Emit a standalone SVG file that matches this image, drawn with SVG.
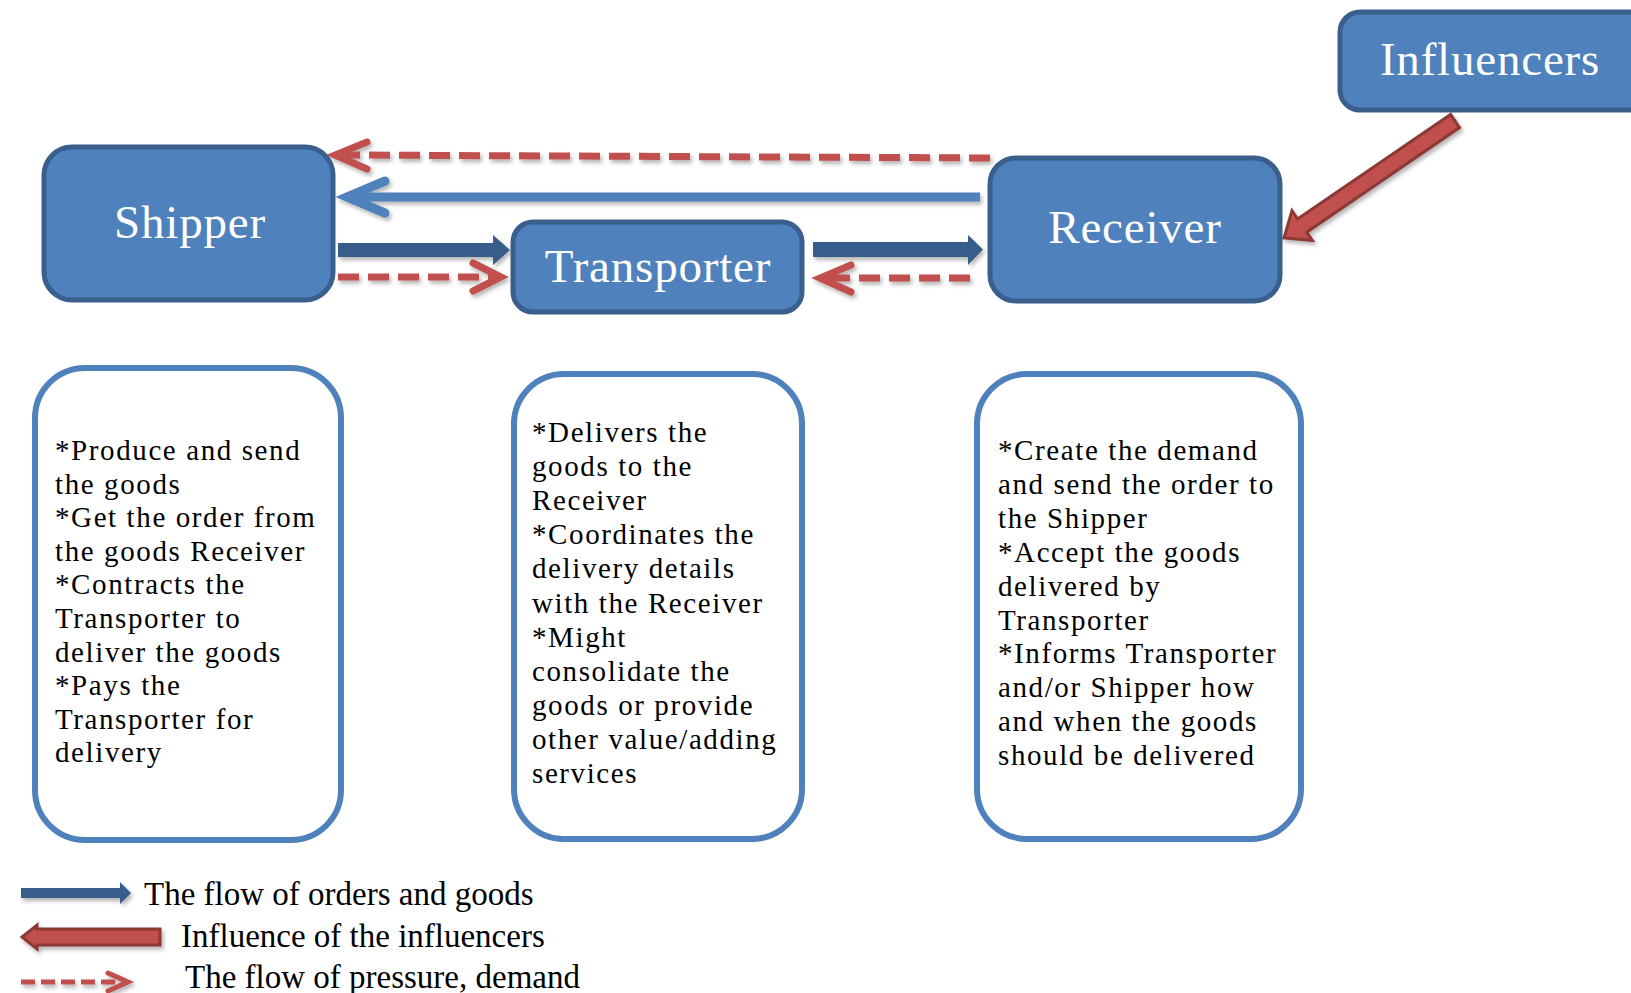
<svg xmlns="http://www.w3.org/2000/svg" width="1631" height="993" viewBox="0 0 1631 993">
<defs>
<filter id="sh" filterUnits="userSpaceOnUse" x="0" y="0" width="1631" height="993">
<feDropShadow dx="2" dy="3" stdDeviation="2" flood-color="#000" flood-opacity="0.3"/>
</filter>
</defs>
<style>
.hbox{fill:#4F81BD;stroke:#3A5F8D;stroke-width:5}
.htxt{font-family:"Liberation Serif","Times New Roman",serif;font-size:47px;fill:#fff;text-anchor:middle;letter-spacing:0.8px}
.dbox{fill:#fff;stroke:#4F81BD;stroke-width:6}
.dtxt{font-family:"Liberation Serif","Times New Roman",serif;font-size:29px;fill:#000;letter-spacing:1.6px}
.ltxt{font-family:"Liberation Serif","Times New Roman",serif;font-size:33px;fill:#000}
.rdash{fill:none;stroke:#C0504D;stroke-width:7;stroke-dasharray:21 9}
.rchev{fill:none;stroke:#C0504D;stroke-width:7;stroke-linecap:round;stroke-linejoin:miter}
.bline{fill:none;stroke:#4F81BD;stroke-width:9}
.bchev{fill:none;stroke:#4F81BD;stroke-width:9;stroke-linecap:round;stroke-linejoin:miter}
.dblk{fill:#385D8A}
.rblk{fill:#C0504D;stroke:#8C3836;stroke-width:3;stroke-linejoin:miter}
</style>

<g id="connectors" filter="url(#sh)">
<path class="rdash" d="M990,158 L345,155"/>
<polyline class="rchev" points="367,142 335,155 367,169"/>
<path class="bline" d="M980,197 L350,197"/>
<polyline class="bchev" points="385,181 347,197 385,213"/>
<polygon class="dblk" points="338,243 493,243 493,235 510,250 493,265 493,257 338,257"/>
<polygon class="dblk" points="813,242 968,242 968,235 983,249.5 968,265 968,257 813,257"/>
<path class="rdash" d="M338,277 L498,277"/>
<polyline class="rchev" points="473,263 501,277 473,291"/>
<path class="rdash" d="M970,278 L824,278"/>
<polyline class="rchev" points="851,265 820,278 851,292"/>
<polygon class="rblk" points="1450.5,114.4 1297.6,219 1292,210.7 1284,238 1312.3,240.4 1306.7,232.2 1459.5,127.6"/>
</g>

<g id="shipper">
<rect class="hbox" x="44" y="147" width="289" height="153" rx="28"/>
<text class="htxt" x="190" y="238">Shipper</text>
</g>
<g id="transporter">
<rect class="hbox" x="513" y="222" width="289" height="90" rx="20"/>
<text class="htxt" x="658" y="282">Transporter</text>
</g>
<g id="receiver">
<rect class="hbox" x="990" y="158" width="290" height="143" rx="26"/>
<text class="htxt" x="1135" y="243">Receiver</text>
</g>
<g id="influencers">
<rect class="hbox" x="1340" y="12" width="320" height="98" rx="20"/>
<text class="htxt" x="1490" y="75">Influencers</text>
</g>

<g id="shipper-desc">
<rect class="dbox" x="35" y="368" width="306" height="472" rx="50"/>
<text class="dtxt">
<tspan x="55" y="460">*Produce and send</tspan>
<tspan x="55" y="493.6">the  goods</tspan>
<tspan x="55" y="527.2">*Get the order from</tspan>
<tspan x="55" y="560.8">the goods Receiver</tspan>
<tspan x="55" y="594.4">*Contracts the</tspan>
<tspan x="55" y="628">Transporter to</tspan>
<tspan x="55" y="661.6">deliver the goods</tspan>
<tspan x="55" y="695.2">*Pays  the</tspan>
<tspan x="55" y="728.8">Transporter for</tspan>
<tspan x="55" y="762.4">delivery</tspan>
</text>
</g>

<g id="transporter-desc">
<rect class="dbox" x="514" y="374" width="288" height="465" rx="50"/>
<text class="dtxt">
<tspan x="532" y="442">*Delivers the</tspan>
<tspan x="532" y="476.1">goods to the</tspan>
<tspan x="532" y="510.2">Receiver</tspan>
<tspan x="532" y="544.3">*Coordinates the</tspan>
<tspan x="532" y="578.4">delivery details</tspan>
<tspan x="532" y="612.5">with the Receiver</tspan>
<tspan x="532" y="646.6">*Might</tspan>
<tspan x="532" y="680.7">consolidate the</tspan>
<tspan x="532" y="714.8">goods or provide</tspan>
<tspan x="532" y="748.9">other value/adding</tspan>
<tspan x="532" y="783">services</tspan>
</text>
</g>

<g id="receiver-desc">
<rect class="dbox" x="977" y="374" width="324" height="465" rx="50"/>
<text class="dtxt">
<tspan x="998" y="460">*Create the demand</tspan>
<tspan x="998" y="493.9">and send the order to</tspan>
<tspan x="998" y="527.8">the Shipper</tspan>
<tspan x="998" y="561.7">*Accept the goods</tspan>
<tspan x="998" y="595.6">delivered by</tspan>
<tspan x="998" y="629.5">Transporter</tspan>
<tspan x="998" y="663.4">*Informs  Transporter</tspan>
<tspan x="998" y="697.3">and/or Shipper how</tspan>
<tspan x="998" y="731.2">and when the goods</tspan>
<tspan x="998" y="765">should be delivered</tspan>
</text>
</g>

<g id="legend">
<g filter="url(#sh)">
<polygon class="dblk" points="21,888 120,888 120,882 131,893 120,904 120,898 21,898"/>
<polygon class="rblk" points="160,929 37,929 37,925 22,937 37,949 37,945 160,945"/>
<path class="rdash" d="M21,982 L124,982" style="stroke-width:5;stroke-dasharray:14 6"/>
<polyline class="rchev" points="108,973 128,982 108,991" style="stroke-width:5"/>
</g>
<text class="ltxt" x="144" y="905">The flow of orders and goods</text>
<text class="ltxt" x="181" y="947">Influence of the influencers</text>
<text class="ltxt" x="185" y="988">The flow of pressure, demand</text>
</g>
</svg>
